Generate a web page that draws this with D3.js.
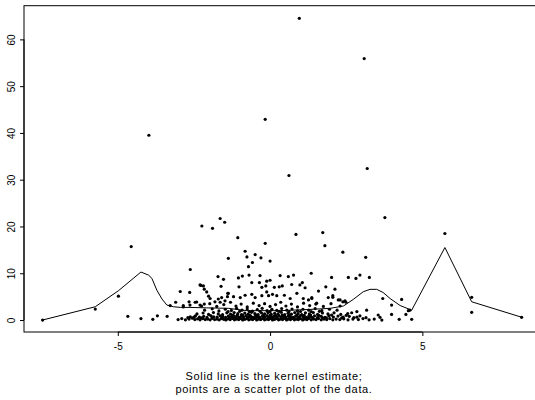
<!DOCTYPE html>
<html>
<head>
<meta charset="utf-8">
<script src="https://cdn.jsdelivr.net/npm/d3@7"></script>
<style>
  html, body { margin: 0; padding: 0; background: #fff; }
  svg { display: block; }
  text { font-family: "Liberation Sans", Arial, Helvetica, sans-serif; fill: #000; }
</style>
</head>
<body>
<svg id="chart" width="535" height="400"></svg>
<script>
// ---- tick labels ----
const xTicks = [-5, 0, 5];
const yTicks = [0, 10, 20, 30, 40, 50, 60];
const captionLines = ["Solid line is the kernel estimate;", "points are a scatter plot of the data."];

// ---- kernel estimate (solid line) ----
const kernelX = [-7.47, -5.74, -4.98, -4.24, -3.99, -3.88, -3.72, -3.55, -3.39, -3.17, -2.95, -2.63, -2.08, -1.37, -0.76, 0.33, 1.42, 1.97, 2.41, 2.73, 3.06, 3.28, 3.50, 3.71, 3.94, 4.27, 4.65, 5.74, 6.62, 8.26];
const kernelY = [0.0, 2.84, 6.26, 10.26, 9.6, 8.9, 6.4, 4.5, 3.2, 2.84, 2.7, 2.7, 2.6, 2.5, 2.0, 2.0, 2.3, 2.5, 3.0, 4.4, 6.05, 6.56, 6.56, 5.9, 4.6, 3.1, 2.1, 15.5, 3.9, 0.6];

// ---- scatter: outlying / sparse points ----
const outerPoints = [
  [0.96, 64.5], [3.09, 55.9], [3.19, 32.4], [0.62, 30.9], [3.77, 21.9], [-0.16, 42.9], [-3.98, 39.5],
  [-1.64, 21.7], [-1.49, 20.9], [-2.24, 20.1], [-1.89, 19.6], [-4.56, 15.7], [-2.62, 10.8],
  [-4.98, 5.1], [-5.74, 2.35], [-7.47, 0.0], [-4.67, 0.8], [-4.24, 0.3], [-3.85, 0.15], [-3.70, 0.9],
  [-3.38, 0.8], [-3.28, 3.1], [-3.10, 3.8], [-2.95, 6.1], [-2.64, 5.9], [-2.85, 2.8], [-2.66, 3.9],
  [-2.41, 3.85], [-2.30, 7.5], [5.74, 18.5], [6.62, 4.85], [6.62, 1.65], [8.26, 0.58],
  [1.73, 18.7], [1.80, 15.9], [2.39, 14.5], [3.14, 13.4], [0.85, 18.3], [-1.06, 17.6], [-0.16, 16.4]
];

// ---- scatter: middle band (y about 3 to 14) ----
const midPoints = [
  [-1.37, 13.2], [-1.71, 9.3], [-1.53, 8.7], [-2.27, 7.4], [-2.19, 7.3], [-2.16, 6.6], [-1.61, 7.2],
  [-2.08, 6.0], [-1.37, 5.7], [-2.02, 5.1], [-1.97, 4.6], [-1.70, 4.5], [-1.59, 4.8], [-1.81, 3.9],
  [-1.64, 3.8], [-1.48, 4.1], [-1.40, 5.0], [-2.85, 3.1], [-2.63, 3.2], [-2.46, 3.8], [-2.30, 3.2], [-2.16, 3.4],
  [-0.82, 14.7], [-0.76, 13.5], [-0.49, 14.0], [-0.30, 13.3], [-0.71, 11.4], [-0.58, 12.3], [0.0, 12.6],
  [1.35, 10.0], [0.33, 9.5], [0.60, 9.3], [0.77, 9.6], [-1.04, 9.0], [-0.91, 9.4], [-0.69, 9.6],
  [-0.33, 9.5], [-0.11, 8.3], [0.0, 8.5], [-1.02, 7.1], [-0.60, 8.0], [-0.35, 8.0], [-0.27, 7.0],
  [-0.14, 7.3], [0.14, 7.0], [0.30, 7.1], [0.40, 7.3], [0.71, 7.6], [1.06, 8.0], [1.15, 6.9], [0.98, 7.5],
  [-1.39, 5.7], [-1.20, 5.0], [-0.98, 4.8], [-0.82, 5.3], [-0.60, 5.5], [-0.49, 4.8], [-0.27, 5.2],
  [-0.11, 6.0], [-0.05, 5.2], [0.08, 5.5], [0.22, 5.2], [0.47, 5.3], [0.66, 4.6], [0.88, 5.7],
  [1.09, 4.6], [1.26, 4.3], [1.37, 4.8], [1.83, 7.1], [1.59, 6.2], [1.37, 4.6], [1.53, 3.6], [1.91, 4.8],
  [2.06, 5.2], [2.30, 4.3], [2.46, 4.1], [2.49, 3.8], [2.02, 9.1], [2.57, 9.1], [2.82, 8.9], [2.95, 9.6],
  [3.26, 9.1], [2.13, 6.6], [2.06, 4.85], [2.24, 4.3], [2.39, 3.9], [3.70, 4.6], [4.32, 4.4], [3.99, 3.2],
  [4.59, 2.1], [2.68, 1.56], [2.85, 1.8], [3.17, 2.1], [3.55, 1.07], [3.61, 0.58], [3.67, 0.0],
  [3.99, 1.2], [4.24, 0.15], [4.46, 1.2], [4.54, 2.0], [4.65, 0.15]
];

// ---- scatter: dense band near zero ----
const densePoints = [
  [-3.02, 0.1], [-2.9, 0.3], [-2.78, 0.05], [-2.66, 0.2], [-2.55, 0.4], [-2.47, 0.1], [-2.38, 0.25], [-2.3, 0.05],
  [-2.21, 0.3], [-2.13, 0.1], [-2.05, 0.2], [-1.97, 0.05], [-1.9, 0.35], [-1.82, 0.1], [-1.74, 0.2], [-1.67, 0.05],
  [-1.6, 0.3], [-1.52, 0.15], [-1.45, 0.02], [-1.38, 0.25], [-1.31, 0.1], [-1.24, 0.35], [-1.17, 0.05], [-1.1, 0.2],
  [-1.03, 0.1], [-0.96, 0.3], [-0.9, 0.02], [-0.83, 0.15], [-0.77, 0.3], [-0.7, 0.05], [-0.63, 0.2], [-0.57, 0.1],
  [-0.5, 0.35], [-0.44, 0.02], [-0.37, 0.2], [-0.31, 0.1], [-0.24, 0.3], [-0.18, 0.05], [-0.11, 0.2], [-0.05, 0.1],
  [0.02, 0.3], [0.08, 0.02], [0.15, 0.15], [0.21, 0.3], [0.28, 0.05], [0.34, 0.2], [0.41, 0.1], [0.47, 0.35],
  [0.54, 0.02], [0.6, 0.2], [0.67, 0.1], [0.73, 0.3], [0.8, 0.05], [0.87, 0.2], [0.93, 0.1], [1.0, 0.3],
  [1.07, 0.02], [1.14, 0.2], [1.21, 0.1], [1.28, 0.35], [1.35, 0.05], [1.43, 0.2], [1.51, 0.1], [1.59, 0.3],
  [1.68, 0.05], [1.77, 0.2], [1.86, 0.1], [1.96, 0.3], [2.06, 0.05], [2.17, 0.2], [2.29, 0.1], [2.42, 0.25],
  [2.56, 0.05], [2.72, 0.2], [2.9, 0.1], [3.05, 0.3], [3.25, 0.05], [3.42, 0.2],
  [-2.62, 0.7], [-2.45, 0.9], [-2.32, 0.6], [-2.18, 0.8], [-2.07, 0.55], [-1.95, 0.95], [-1.85, 0.7], [-1.74, 0.6],
  [-1.64, 0.9], [-1.55, 0.75], [-1.46, 0.55], [-1.37, 0.85], [-1.28, 0.65], [-1.2, 0.95], [-1.12, 0.7], [-1.03, 0.55],
  [-0.95, 0.85], [-0.87, 0.65], [-0.79, 0.95], [-0.71, 0.6], [-0.63, 0.8], [-0.56, 0.55], [-0.48, 0.9], [-0.4, 0.7],
  [-0.33, 0.55], [-0.25, 0.85], [-0.17, 0.65], [-0.1, 0.95], [-0.02, 0.7], [0.06, 0.55], [0.13, 0.85], [0.21, 0.65],
  [0.29, 0.95], [0.36, 0.6], [0.44, 0.8], [0.52, 0.55], [0.6, 0.9], [0.68, 0.7], [0.76, 0.55], [0.84, 0.85],
  [0.92, 0.65], [1.0, 0.95], [1.09, 0.7], [1.18, 0.55], [1.27, 0.85], [1.36, 0.65], [1.46, 0.9], [1.57, 0.6],
  [1.68, 0.8], [1.8, 0.55], [1.93, 0.9], [2.08, 0.65], [2.23, 0.85], [2.4, 0.6], [2.6, 0.8], [2.85, 0.6],
  [-2.4, 1.3], [-2.2, 1.5], [-2.02, 1.2], [-1.86, 1.6], [-1.7, 1.3], [-1.56, 1.15], [-1.42, 1.55], [-1.3, 1.25],
  [-1.18, 1.6], [-1.06, 1.35], [-0.94, 1.15], [-0.83, 1.5], [-0.72, 1.25], [-0.61, 1.65], [-0.5, 1.35], [-0.39, 1.15],
  [-0.28, 1.5], [-0.18, 1.3], [-0.07, 1.6], [0.04, 1.2], [0.15, 1.45], [0.26, 1.3], [0.37, 1.65], [0.48, 1.15],
  [0.59, 1.45], [0.7, 1.25], [0.81, 1.6], [0.92, 1.35], [1.04, 1.15], [1.16, 1.55], [1.29, 1.3], [1.42, 1.6],
  [1.56, 1.2], [1.72, 1.5], [1.9, 1.3], [2.1, 1.55], [2.32, 1.2], [2.55, 1.4],
  [-2.15, 2.1], [-1.9, 2.4], [-1.68, 1.95], [-1.47, 2.3], [-1.27, 2.05], [-1.1, 2.5], [-0.92, 2.1], [-0.75, 2.35],
  [-0.58, 1.9], [-0.42, 2.25], [-0.26, 2.5], [-0.1, 2.0], [0.06, 2.3], [0.22, 2.05], [0.38, 2.45], [0.55, 2.1],
  [0.72, 2.35], [0.9, 1.95], [1.08, 2.3], [1.27, 2.1], [1.48, 2.45], [1.7, 2.0], [1.95, 2.3], [2.2, 2.1],
  [-2.25, 3.0], [-1.98, 3.5], [-1.75, 2.9], [-1.52, 3.3], [-1.3, 3.8], [-1.12, 3.0], [-0.95, 3.4], [-0.75, 2.8],
  [-0.55, 3.6], [-0.36, 3.1], [-0.18, 3.5], [0.0, 2.9], [0.18, 3.3], [0.35, 3.8], [0.52, 3.0], [0.7, 3.4],
  [0.9, 2.8], [1.1, 3.6], [1.3, 3.1], [1.5, 3.4], [1.75, 2.9], [2.0, 3.5], [2.3, 3.0],
  [-1.33, 0.45], [-1.22, 0.5], [-1.14, 0.42], [-1.0, 0.48], [-0.88, 0.45], [-0.74, 0.5], [-0.6, 0.42], [-0.46, 0.47],
  [-0.34, 0.43], [-0.2, 0.5], [-0.06, 0.44], [0.1, 0.46], [0.24, 0.42], [0.39, 0.5], [0.51, 0.44], [0.64, 0.47],
  [0.79, 0.43], [0.95, 0.5], [1.11, 0.45], [1.24, 0.42], [1.4, 0.48], [1.55, 0.44], [1.72, 0.47],
  [-1.25, 1.05], [-1.08, 1.0], [-0.9, 1.05], [-0.66, 1.02], [-0.44, 1.05], [-0.22, 1.0], [0.0, 1.05], [0.18, 1.02],
  [0.4, 1.05], [0.63, 1.0], [0.88, 1.05], [1.12, 1.02], [1.33, 1.05], [1.6, 1.0],
  [-1.38, 1.8], [-1.0, 1.85], [-0.68, 1.8], [-0.33, 1.85], [0.0, 1.78], [0.3, 1.85], [0.62, 1.8], [1.0, 1.82],
  [1.35, 1.8], [1.62, 1.85],
  [-2.5, 0.6], [-2.25, 0.45], [-1.9, 0.6], [-1.58, 0.5], [-2.7, 0.5],
  [1.85, 0.45], [2.02, 1.05], [2.35, 0.45], [2.5, 1.0], [2.75, 0.5], [2.95, 0.9], [3.15, 0.5]
];

// ---- drawing ----
const svg = d3.select("#chart");
const x = d3.scaleLinear().domain([-8.08, 8.83]).range([24, 539]);
const y = d3.scaleLinear().domain([-2.56, 67.2]).range([332, 5.7]);

// plot box
svg.append("rect")
  .attr("x", x.range()[0]).attr("y", y.range()[1])
  .attr("width", x.range()[1] - x.range()[0])
  .attr("height", y.range()[0] - y.range()[1])
  .attr("fill", "none").attr("stroke", "#000").attr("stroke-width", 1);

// axes (R style: axis line from first to last tick)
const xAxis = d3.axisBottom(x).tickValues(xTicks).tickSize(4).tickPadding(6.5).tickFormat(d3.format("d"));
const gx = svg.append("g").attr("transform", `translate(0,${y.range()[0]})`).call(xAxis);
gx.select(".domain").remove();
gx.append("line").attr("x1", x(xTicks[0])).attr("x2", x(xTicks[xTicks.length - 1]))
  .attr("stroke", "#000");
gx.selectAll("text").attr("font-size", 10).style("font-family", '"Liberation Sans", Arial, sans-serif')
  .text(d => d < 0 ? "-" + Math.abs(d) : String(d));

const yAxis = d3.axisLeft(y).tickValues(yTicks).tickSize(4).tickFormat(d3.format("d"));
const gy = svg.append("g").attr("transform", `translate(${x.range()[0]},0)`).call(yAxis);
gy.select(".domain").remove();
gy.append("line").attr("y1", y(yTicks[0])).attr("y2", y(yTicks[yTicks.length - 1]))
  .attr("stroke", "#000");
gy.selectAll("text")
  .attr("font-size", 10)
  .style("font-family", '"Liberation Sans", Arial, sans-serif')
  .attr("x", null).attr("dy", null)
  .attr("text-anchor", "middle")
  .attr("transform", "translate(-9.5,0) rotate(-90)")
  .attr("y", 0);

// scatter points
const allPoints = outerPoints.concat(midPoints, densePoints);
svg.append("g").selectAll("circle").data(allPoints).join("circle")
  .attr("cx", d => x(d[0])).attr("cy", d => y(d[1])).attr("r", 1.6).attr("fill", "#000");

// kernel line
const line = d3.line().x(d => x(d[0])).y(d => y(d[1]));
svg.append("path").datum(kernelX.map((v, i) => [v, kernelY[i]]))
  .attr("d", line).attr("fill", "none").attr("stroke", "#000").attr("stroke-width", 1);

// caption
svg.append("g").selectAll("text").data(captionLines).join("text")
  .attr("x", 274).attr("y", (d, i) => 380 + i * 13)
  .attr("text-anchor", "middle").attr("font-size", 11)
  .attr("letter-spacing", 0.65)
  .text(d => d);
</script>
</body>
</html>
